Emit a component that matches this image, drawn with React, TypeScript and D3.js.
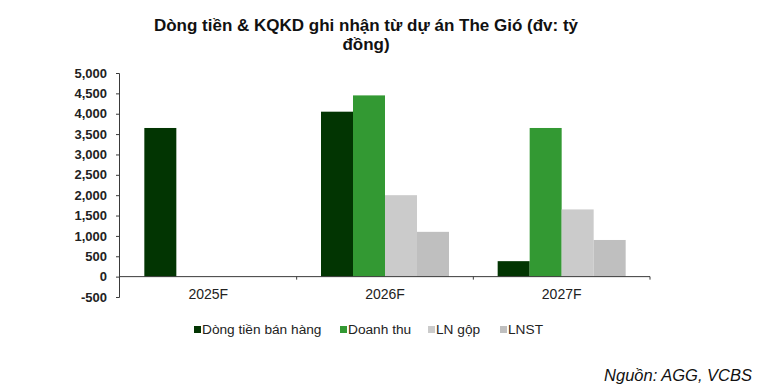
import React, { useEffect, useRef } from 'react';
import * as d3 from 'd3';

const categories = ['2025F', '2026F', '2027F'];
const seriesNames = ['Dòng tiền bán hàng', 'Doanh thu', 'LN gộp', 'LNST'];
const seriesColors = ['#023502', '#339933', '#cbcbcb', '#bfbfbf'];
const dongTien = [3650, 4050, 380];
const doanhThu = [null, 4450, 3650];
const lnGop = [null, 2000, 1650];
const lnst = [null, 1100, 900];
const yTicks = [-500, 0, 500, 1000, 1500, 2000, 2500, 3000, 3500, 4000, 4500, 5000];

const App = () => {
    const svgRef = useRef<SVGSVGElement>(null);

    useEffect(() => {
        if (!svgRef.current) return;
        const svg = d3.select(svgRef.current);
        svg.selectAll('*').remove();

        const values = [dongTien, doanhThu, lnGop, lnst];
        const rows = categories.map((c, i) => ({
            cat: c,
            vals: seriesNames.map((s, j) => ({ name: s, idx: j, v: values[j][i] })),
        }));

        const x0 = d3.scaleBand().domain(categories).range([120, 650]).padding(0);
        const groupW = 128;
        const x1 = d3.scaleBand().domain(seriesNames)
            .range([(x0.bandwidth() - groupW) / 2, (x0.bandwidth() + groupW) / 2]).padding(0);
        const y = d3.scaleLinear().domain([-500, 5000]).range([297, 73]);

        const axisColor = '#3a3a3a';
        const font = 'Liberation Sans, Arial, sans-serif';

        // title
        const title = svg.append('text')
            .attr('text-anchor', 'middle')
            .style('font-family', font)
            .style('font-weight', 'bold')
            .style('font-size', '17px')
            .attr('fill', '#111');
        title.append('tspan').attr('x', 366).attr('y', 31).text('Dòng tiền & KQKD ghi nhận từ dự án The Gió (đv: tỷ');
        title.append('tspan').attr('x', 366).attr('y', 50).text('đồng)');

        // bars
        const groups = svg.append('g').selectAll('g').data(rows).enter().append('g')
            .attr('transform', d => `translate(${x0(d.cat)},0)`);
        groups.selectAll('rect')
            .data(d => d.vals.filter(v => v.v != null))
            .enter().append('rect')
            .attr('x', d => x1(d.name) as number)
            .attr('width', x1.bandwidth())
            .attr('y', d => y(Math.max(0, d.v as number)))
            .attr('height', d => Math.abs(y(d.v as number) - y(0)))
            .attr('fill', d => seriesColors[d.idx]);

        // y axis
        const fmt = d3.format(',');
        const yAxis = svg.append('g')
            .attr('transform', 'translate(119,0)')
            .call(d3.axisLeft(y).tickValues(yTicks)
                .tickFormat(d => fmt(d as number).replace('−', '-'))
                .tickSize(3).tickSizeOuter(3));
        yAxis.select('.domain').attr('stroke', axisColor);
        yAxis.selectAll('line').attr('stroke', axisColor);
        yAxis.selectAll('text')
            .attr('x', -12)
            .attr('fill', '#222')
            .style('font-family', font)
            .style('font-weight', 'bold')
            .style('font-size', '13px');

        // x axis at zero
        const xg = svg.append('g');
        xg.append('line')
            .attr('x1', 119).attr('x2', x0.range()[1])
            .attr('y1', y(0)).attr('y2', y(0))
            .attr('stroke', axisColor);
        const bounds = categories.map(c => x0(c) as number).concat([x0.range()[1]]);
        xg.selectAll('line.tick').data(bounds.slice(1)).enter().append('line')
            .attr('class', 'tick')
            .attr('x1', d => d).attr('x2', d => d)
            .attr('y1', y(0)).attr('y2', y(0) + 3)
            .attr('stroke', axisColor);
        xg.selectAll('text').data(categories).enter().append('text')
            .attr('x', d => (x0(d) as number) + x0.bandwidth() / 2)
            .attr('y', 299)
            .attr('text-anchor', 'middle')
            .attr('fill', '#222')
            .style('font-family', font)
            .style('font-size', '14px')
            .text(d => d);

        // legend
        const legendX = [194, 340, 428, 500];
        const legend = svg.append('g').selectAll('g').data(seriesNames).enter().append('g')
            .attr('transform', (d, i) => `translate(${legendX[i]},334)`);
        legend.append('rect')
            .attr('x', 0).attr('y', -8).attr('width', 7).attr('height', 7)
            .attr('fill', (d, i) => seriesColors[i]);
        legend.append('text')
            .attr('x', 8).attr('y', 0)
            .attr('fill', '#222')
            .style('font-family', font)
            .style('font-size', '13.7px')
            .text(d => d);

        // source
        svg.append('text')
            .attr('x', 752).attr('y', 381)
            .attr('text-anchor', 'end')
            .attr('fill', '#111')
            .style('font-family', font)
            .style('font-style', 'italic')
            .style('font-size', '16.5px')
            .text('Nguồn: AGG, VCBS');
    }, []);

    return (
        <svg ref={svgRef} width={764} height={386}
            style={{ position: 'absolute', left: 0, top: 0, background: '#fff' }} />
    );
};

export default App;
